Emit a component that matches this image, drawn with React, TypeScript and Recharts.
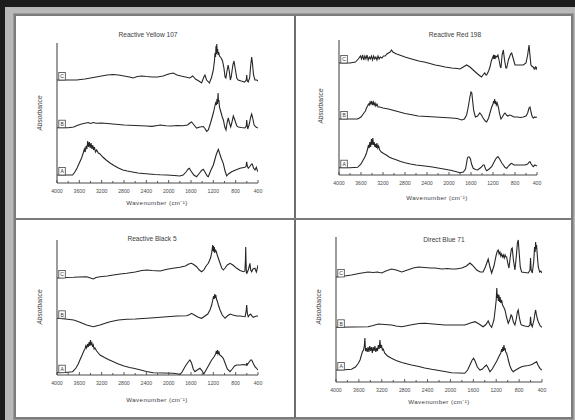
import React from 'react';
import { LineChart, Line, XAxis, YAxis, ReferenceDot } from 'recharts';

type Pt = [number, number];

// ---------- Reactive Yellow 107 ----------
const ry107C: Pt[] = [[4000,1.03],[3850,1.03],[3650,1.03],[3500,1.04],[3400,1.05],[3300,1.06],[3200,1.07],[3100,1.08],[3000,1.085],[2900,1.08],[2800,1.07],[2700,1.06],[2640,1.05],[2560,1.065],[2480,1.07],[2400,1.065],[2300,1.06],[2200,1.06],[2100,1.07],[2000,1.09],[1920,1.10],[1850,1.08],[1780,1.07],[1700,1.06],[1620,1.05],[1570,1.07],[1520,1.04],[1460,1.02],[1410,1.00],[1370,1.06],[1350,1.08],[1320,1.03],[1270,1.00],[1230,1.06],[1200,1.13],[1180,1.22],[1170,1.30],[1160,1.26],[1152,1.37],[1145,1.29],[1138,1.39],[1130,1.30],[1122,1.34],[1115,1.28],[1105,1.31],[1090,1.27],[1060,1.25],[1035,1.22],[1010,1.15],[990,1.06],[975,1.05],[955,1.12],[935,1.18],[915,1.12],[895,1.03],[880,1.06],[850,1.18],[830,1.22],[810,1.15],[780,1.05],[755,1.03],[700,1.02],[640,1.01],[610,1.03],[602,1.08],[592,1.02],[575,1.01],[550,1.05],[530,1.18],[513,1.26],[500,1.20],[480,1.08],[455,1.03],[420,1.03],[400,1.02]];
const ry107B: Pt[] = [[4000,0.553],[3800,0.553],[3700,0.56],[3640,0.575],[3560,0.59],[3480,0.60],[3440,0.605],[3400,0.595],[3350,0.605],[3300,0.598],[3200,0.60],[3100,0.595],[3000,0.59],[2900,0.585],[2800,0.58],[2700,0.578],[2600,0.575],[2500,0.572],[2400,0.57],[2300,0.566],[2200,0.575],[2150,0.58],[2050,0.572],[1950,0.57],[1850,0.575],[1750,0.572],[1660,0.58],[1620,0.60],[1590,0.61],[1560,0.59],[1500,0.55],[1440,0.56],[1380,0.565],[1350,0.545],[1320,0.515],[1290,0.53],[1250,0.60],[1220,0.66],[1200,0.70],[1180,0.75],[1160,0.80],[1145,0.78],[1135,0.84],[1125,0.79],[1115,0.90],[1108,0.81],[1100,0.83],[1090,0.76],[1070,0.72],[1040,0.66],[1020,0.63],[995,0.56],[973,0.53],[955,0.60],[932,0.65],[910,0.60],[889,0.56],[870,0.60],[842,0.67],[815,0.63],[780,0.57],[753,0.56],[700,0.555],[633,0.55],[610,0.57],[602,0.63],[592,0.57],[584,0.54],[560,0.58],[530,0.66],[513,0.69],[495,0.65],[470,0.58],[437,0.56],[400,0.55]];
const ry107A: Pt[] = [[4000,0.08],[3850,0.08],[3720,0.08],[3680,0.11],[3640,0.15],[3600,0.20],[3560,0.25],[3530,0.30],[3510,0.34],[3495,0.31],[3480,0.37],[3465,0.34],[3450,0.42],[3435,0.36],[3420,0.41],[3405,0.35],[3390,0.40],[3375,0.34],[3360,0.38],[3345,0.33],[3330,0.36],[3310,0.31],[3290,0.33],[3260,0.30],[3230,0.29],[3180,0.26],[3120,0.23],[3050,0.20],[2980,0.175],[2900,0.15],[2820,0.13],[2740,0.12],[2650,0.11],[2550,0.10],[2460,0.095],[2350,0.09],[2250,0.085],[2150,0.082],[2035,0.08],[1900,0.075],[1800,0.07],[1740,0.08],[1690,0.11],[1650,0.14],[1630,0.147],[1600,0.12],[1550,0.08],[1500,0.063],[1460,0.09],[1410,0.125],[1380,0.137],[1350,0.11],[1310,0.07],[1290,0.063],[1250,0.12],[1200,0.18],[1170,0.24],[1150,0.28],[1130,0.31],[1110,0.337],[1090,0.30],[1060,0.25],[1022,0.197],[990,0.12],[961,0.07],[930,0.09],[871,0.113],[800,0.13],[722,0.147],[633,0.157],[612,0.17],[602,0.213],[592,0.17],[574,0.147],[540,0.17],[515,0.19],[502,0.19],[480,0.15],[454,0.13],[430,0.157],[415,0.13],[400,0.113]];

// ---------- Reactive Red 198 ----------
const rr198C: Pt[] = [[4000,1.12],[3800,1.12],[3700,1.13],[3650,1.16],[3610,1.19],[3590,1.16],[3570,1.20],[3550,1.15],[3530,1.19],[3510,1.16],[3490,1.20],[3470,1.15],[3450,1.18],[3430,1.16],[3410,1.19],[3390,1.15],[3370,1.19],[3350,1.16],[3330,1.18],[3310,1.15],[3290,1.19],[3270,1.16],[3250,1.18],[3220,1.17],[3190,1.19],[3160,1.19],[3130,1.21],[3100,1.22],[3070,1.23],[3045,1.25],[3020,1.23],[2990,1.22],[2950,1.21],[2900,1.20],[2800,1.18],[2680,1.16],[2550,1.14],[2450,1.13],[2380,1.12],[2250,1.10],[2150,1.09],[2070,1.08],[1950,1.07],[1850,1.065],[1800,1.06],[1740,1.08],[1680,1.10],[1620,1.08],[1560,1.05],[1480,1.01],[1410,0.98],[1370,1.01],[1350,1.02],[1330,1.00],[1315,1.00],[1280,1.04],[1255,1.08],[1230,1.14],[1210,1.17],[1195,1.19],[1185,1.16],[1175,1.20],[1165,1.16],[1150,1.19],[1130,1.18],[1110,1.20],[1090,1.15],[1070,1.09],[1055,1.07],[1035,1.20],[1012,1.25],[990,1.15],[965,1.07],[951,1.07],[920,1.15],[880,1.21],[860,1.22],[830,1.16],[800,1.10],[720,1.10],[650,1.10],[600,1.12],[570,1.20],[545,1.30],[525,1.18],[510,1.10],[497,1.09],[470,1.08],[450,1.06],[430,1.08],[415,1.06],[400,1.08]];
const rr198B: Pt[] = [[4000,0.56],[3800,0.56],[3660,0.56],[3600,0.58],[3560,0.61],[3520,0.64],[3500,0.67],[3480,0.69],[3465,0.71],[3450,0.70],[3435,0.73],[3420,0.71],[3405,0.74],[3390,0.70],[3375,0.73],[3360,0.70],[3345,0.72],[3330,0.69],[3310,0.71],[3290,0.68],[3260,0.68],[3200,0.67],[3100,0.66],[3000,0.645],[2900,0.63],[2800,0.615],[2700,0.605],[2560,0.59],[2400,0.585],[2250,0.58],[2100,0.575],[1950,0.57],[1850,0.565],[1770,0.55],[1720,0.56],[1680,0.60],[1650,0.68],[1620,0.78],[1600,0.83],[1585,0.82],[1570,0.74],[1550,0.64],[1520,0.58],[1480,0.59],[1440,0.62],[1410,0.60],[1380,0.57],[1340,0.54],[1315,0.53],[1280,0.57],[1250,0.63],[1224,0.68],[1200,0.71],[1190,0.74],[1180,0.72],[1170,0.76],[1160,0.71],[1150,0.74],[1140,0.70],[1125,0.72],[1103,0.68],[1080,0.61],[1055,0.56],[1030,0.58],[1000,0.61],[982,0.62],[955,0.60],[930,0.59],[900,0.60],[870,0.595],[820,0.58],[760,0.58],[700,0.575],[650,0.58],[600,0.59],[570,0.62],[545,0.67],[527,0.68],[505,0.62],[485,0.58],[467,0.57],[440,0.58],[420,0.575],[400,0.58]];
const rr198A: Pt[] = [[4000,0.073],[3800,0.073],[3660,0.077],[3600,0.11],[3560,0.15],[3530,0.18],[3500,0.22],[3480,0.26],[3465,0.30],[3450,0.27],[3440,0.33],[3425,0.28],[3410,0.36],[3398,0.30],[3385,0.37],[3372,0.30],[3360,0.33],[3348,0.28],[3335,0.31],[3320,0.27],[3310,0.32],[3295,0.27],[3280,0.29],[3260,0.25],[3230,0.23],[3190,0.215],[3140,0.20],[3090,0.18],[3040,0.167],[2950,0.15],[2880,0.135],[2800,0.123],[2700,0.11],[2600,0.10],[2440,0.09],[2300,0.08],[2200,0.07],[2070,0.057],[1950,0.045],[1850,0.03],[1800,0.023],[1740,0.03],[1700,0.06],[1680,0.12],[1665,0.17],[1650,0.18],[1630,0.18],[1610,0.16],[1590,0.11],[1560,0.067],[1520,0.055],[1480,0.05],[1420,0.075],[1380,0.10],[1360,0.10],[1335,0.06],[1315,0.043],[1270,0.06],[1224,0.083],[1180,0.13],[1140,0.17],[1110,0.185],[1080,0.16],[1040,0.12],[1012,0.10],[980,0.075],[951,0.067],[920,0.09],[880,0.11],[860,0.117],[820,0.10],[780,0.10],[740,0.10],[680,0.10],[618,0.10],[570,0.11],[540,0.13],[527,0.133],[505,0.11],[480,0.09],[467,0.083],[440,0.10],[420,0.095],[400,0.09]];

// ---------- Reactive Black 5 ----------
const rb5C: Pt[] = [[4000,0.97],[3850,0.975],[3700,0.977],[3600,0.98],[3470,0.983],[3400,0.97],[3350,0.96],[3300,0.975],[3230,0.983],[3100,0.99],[2990,1.00],[2870,1.01],[2750,1.017],[2600,1.03],[2480,1.045],[2390,1.05],[2300,1.045],[2150,1.04],[2050,1.055],[1950,1.065],[1800,1.077],[1700,1.09],[1640,1.11],[1590,1.117],[1540,1.10],[1500,1.083],[1450,1.05],[1410,1.033],[1370,1.05],[1330,1.09],[1290,1.117],[1250,1.17],[1230,1.22],[1220,1.26],[1212,1.30],[1205,1.24],[1198,1.29],[1190,1.23],[1182,1.28],[1175,1.22],[1165,1.25],[1150,1.24],[1130,1.20],[1100,1.15],[1080,1.117],[1050,1.07],[1022,1.05],[990,1.07],[950,1.10],[900,1.117],[850,1.10],[780,1.067],[720,1.045],[660,1.033],[635,1.04],[625,1.15],[620,1.28],[615,1.15],[608,1.02],[600,1.017],[575,1.05],[560,1.08],[545,1.117],[530,1.05],[513,1.033],[490,1.06],[455,1.067],[430,1.03],[415,1.06],[400,1.10]];
const rb5B: Pt[] = [[4000,0.567],[3850,0.56],[3700,0.55],[3600,0.53],[3470,0.50],[3400,0.49],[3350,0.483],[3300,0.49],[3230,0.50],[3150,0.515],[3050,0.533],[2900,0.55],[2750,0.557],[2600,0.56],[2390,0.567],[2200,0.575],[2035,0.583],[1850,0.59],[1680,0.593],[1620,0.605],[1590,0.617],[1540,0.60],[1480,0.58],[1410,0.567],[1350,0.59],[1300,0.61],[1260,0.65],[1230,0.70],[1210,0.75],[1195,0.79],[1185,0.76],[1175,0.81],[1165,0.77],[1155,0.80],[1145,0.76],[1130,0.74],[1110,0.70],[1080,0.65],[1040,0.60],[990,0.567],[950,0.59],[900,0.61],[850,0.60],[780,0.59],[720,0.59],[660,0.585],[630,0.583],[612,0.64],[602,0.70],[592,0.62],[575,0.583],[550,0.60],[530,0.61],[510,0.59],[485,0.577],[450,0.585],[420,0.59],[400,0.59]];
const rb5A: Pt[] = [[4000,0.023],[3850,0.025],[3720,0.033],[3660,0.07],[3620,0.11],[3590,0.15],[3550,0.20],[3520,0.24],[3500,0.26],[3485,0.29],[3470,0.27],[3455,0.31],[3440,0.28],[3425,0.33],[3412,0.29],[3400,0.35],[3388,0.30],[3375,0.32],[3362,0.28],[3350,0.30],[3335,0.26],[3320,0.27],[3290,0.24],[3260,0.22],[3230,0.20],[3150,0.175],[3080,0.155],[2990,0.133],[2900,0.11],[2800,0.09],[2700,0.075],[2630,0.067],[2500,0.05],[2400,0.035],[2275,0.023],[2100,0.02],[1920,0.017],[1850,0.012],[1800,0.004],[1760,0.03],[1700,0.09],[1650,0.13],[1620,0.15],[1590,0.12],[1560,0.06],[1530,0.033],[1490,0.05],[1440,0.067],[1400,0.04],[1370,0.01],[1330,0.05],[1280,0.10],[1230,0.15],[1190,0.18],[1160,0.21],[1145,0.24],[1135,0.21],[1125,0.25],[1115,0.21],[1100,0.23],[1085,0.20],[1060,0.19],[1022,0.167],[990,0.12],[950,0.06],[902,0.033],[860,0.06],[820,0.09],[782,0.10],[720,0.10],[660,0.105],[610,0.10],[602,0.12],[595,0.10],[560,0.13],[530,0.15],[513,0.15],[480,0.11],[454,0.083],[430,0.07],[400,0.05]];

// ---------- Direct Blue 71 ----------
const db71C: Pt[] = [[4000,1.05],[3850,1.06],[3730,1.07],[3600,1.085],[3440,1.10],[3350,1.095],[3280,1.10],[3200,1.09],[3130,1.11],[3030,1.13],[2950,1.12],[2850,1.10],[2750,1.12],[2650,1.14],[2560,1.15],[2450,1.145],[2350,1.14],[2270,1.14],[2150,1.13],[2050,1.135],[1980,1.13],[1900,1.13],[1800,1.14],[1720,1.16],[1660,1.19],[1620,1.17],[1540,1.12],[1480,1.10],[1430,1.10],[1390,1.15],[1340,1.23],[1310,1.15],[1280,1.09],[1240,1.16],[1200,1.27],[1180,1.31],[1165,1.32],[1150,1.28],[1135,1.30],[1120,1.26],[1107,1.28],[1090,1.25],[1075,1.27],[1060,1.24],[1045,1.27],[1030,1.25],[1018,1.25],[995,1.18],[977,1.14],[955,1.25],[935,1.33],[920,1.34],[900,1.22],[873,1.12],[850,1.25],[830,1.39],[815,1.42],[800,1.30],[780,1.15],[756,1.10],[700,1.095],[640,1.09],[610,1.12],[600,1.24],[590,1.12],[570,1.09],[545,1.20],[530,1.35],[520,1.30],[511,1.40],[503,1.33],[495,1.37],[480,1.25],[465,1.15],[440,1.10],[420,1.11],[400,1.09]];
const db71B: Pt[] = [[4000,0.547],[3700,0.55],[3440,0.553],[3350,0.565],[3260,0.58],[3150,0.575],[3030,0.57],[2950,0.56],[2850,0.553],[2700,0.57],[2550,0.585],[2445,0.587],[2300,0.58],[2200,0.575],[2100,0.57],[1900,0.57],[1750,0.57],[1650,0.59],[1570,0.603],[1500,0.58],[1430,0.553],[1380,0.575],[1340,0.61],[1310,0.57],[1280,0.547],[1240,0.62],[1215,0.74],[1200,0.82],[1190,0.94],[1182,0.84],[1172,0.88],[1162,0.81],[1152,0.87],[1142,0.80],[1132,0.85],[1120,0.79],[1105,0.82],[1090,0.77],[1070,0.75],[1047,0.72],[1020,0.65],[990,0.587],[965,0.62],[940,0.67],[925,0.66],[900,0.60],[873,0.57],[850,0.63],[830,0.70],[815,0.72],[795,0.64],[770,0.58],[756,0.57],[700,0.56],[640,0.553],[610,0.57],[600,0.653],[590,0.58],[570,0.553],[540,0.62],[520,0.70],[511,0.72],[500,0.68],[480,0.63],[465,0.603],[430,0.56],[400,0.547]];
const db71A: Pt[] = [[4000,0.12],[3850,0.123],[3730,0.127],[3660,0.15],[3610,0.187],[3580,0.22],[3560,0.26],[3540,0.30],[3520,0.32],[3505,0.36],[3495,0.44],[3485,0.31],[3470,0.34],[3455,0.30],[3440,0.35],[3425,0.30],[3410,0.36],[3395,0.31],[3380,0.35],[3365,0.29],[3350,0.35],[3335,0.31],[3320,0.36],[3305,0.30],[3290,0.34],[3275,0.31],[3260,0.37],[3245,0.33],[3232,0.42],[3220,0.34],[3205,0.37],[3190,0.32],[3175,0.33],[3150,0.29],[3100,0.26],[3030,0.237],[2950,0.215],[2850,0.195],[2750,0.18],[2680,0.17],[2550,0.155],[2450,0.14],[2330,0.127],[2200,0.115],[2100,0.105],[1980,0.093],[1850,0.09],[1750,0.087],[1700,0.12],[1660,0.17],[1620,0.22],[1595,0.237],[1570,0.21],[1530,0.15],[1484,0.12],[1440,0.13],[1400,0.155],[1370,0.17],[1340,0.14],[1310,0.103],[1270,0.13],[1230,0.17],[1190,0.21],[1165,0.24],[1140,0.27],[1120,0.29],[1105,0.33],[1095,0.30],[1085,0.35],[1075,0.31],[1065,0.37],[1055,0.32],[1045,0.34],[1035,0.30],[1020,0.29],[1000,0.25],[989,0.22],[960,0.16],[930,0.12],[902,0.103],[860,0.12],[800,0.14],[756,0.153],[700,0.16],[640,0.165],[600,0.17],[560,0.18],[520,0.195],[494,0.203],[470,0.17],[436,0.137],[415,0.125],[400,0.12]];

const titles = ['Reactive Yellow 107', 'Reactive Red 198', 'Reactive Black 5', 'Direct Blue 71'];
const seriesLetters = ['A', 'B', 'C'];
const xTicks = [4000, 3800, 3600, 3400, 3200, 3000, 2800, 2600, 2400, 2200, 2000, 1800, 1600, 1400, 1200, 1000, 800, 600, 400];
const xLabel = 'Wavenumber (cm\u207B\u00B9)';
const yLabel = 'Absorbance';

const FONT = '"Liberation Sans", Arial, sans-serif';
const AX = '#4a4a4a';

const toRows = (pts: Pt[]) => pts.map(([wn, a]) => ({ wn, a }));

const Tick = (props: any) => {
  const { x, y, payload } = props;
  const v = payload.value as number;
  const major = v % 400 === 0;
  return (
    <g>
      <line x1={x} x2={x} y1={y} y2={y - (major ? 3 : 2)} stroke={AX} strokeWidth={0.9} />
      {major && (
        <text x={x} y={y + 8} textAnchor="middle" dominantBaseline="central" fontSize={5.2} fill="#4a4a4a" fontFamily={FONT}>
          {v}
        </text>
      )}
    </g>
  );
};

const makeBox = (letter: string) => (props: any) => {
  const { cx, cy } = props;
  return (
    <g>
      <rect x={cx + 1.8} y={cy - 7.5} width={6.5} height={7.5} fill="#fff" stroke="#444" strokeWidth={0.8} />
      <text x={cx + 5.05} y={cy - 3.6} textAnchor="middle" dominantBaseline="central" fontSize={5} fill="#333" fontFamily={FONT}>
        {letter}
      </text>
    </g>
  );
};

type PanelProps = {
  left: number; top: number; width: number; height: number;
  margin: { top: number; right: number; bottom: number; left: number };
  yMax: number;
  series: Pt[][];
};

const Panel = ({ left, top, width, height, margin, yMax, series }: PanelProps) => (
  <div style={{ position: 'absolute', left, top, width, height }}>
    <LineChart width={width} height={height} margin={margin}>
      <XAxis
        type="number"
        dataKey="wn"
        domain={[400, 4000]}
        reversed
        allowDataOverflow
        ticks={xTicks}
        interval={0}
        tick={(p: any) => <Tick {...p} />}
        tickLine={false}
        tickSize={0}
        tickMargin={0}
        height={10}
        axisLine={{ stroke: AX, strokeWidth: 1.1 }}
      />
      <YAxis
        type="number"
        domain={[0, yMax]}
        allowDataOverflow
        tick={false}
        tickLine={false}
        width={10}
        axisLine={{ stroke: AX, strokeWidth: 1.1 }}
      />
      {series.map((s, i) => (
        <Line
          key={i}
          data={toRows(s)}
          dataKey="a"
          type="linear"
          dot={false}
          stroke="#262626"
          strokeWidth={1.1}
          isAnimationActive={false}
        />
      ))}
      {series.map((s, i) => (
        <ReferenceDot key={'b' + i} x={s[0][0]} y={s[0][1]} r={0} ifOverflow="visible" shape={makeBox(seriesLetters[i])} />
      ))}
    </LineChart>
  </div>
);

const textSpecs = [
  { t: [148, 34], x: [157, 202], y: [39, 113] },
  { t: [455, 34], x: [437, 197], y: [320, 106] },
  { t: [152, 238], x: [157, 399], y: [39, 307] },
  { t: [444, 239], x: [439, 401], y: [318, 307] },
];

export default function App() {
  return (
    <div style={{ position: 'absolute', left: 0, top: 0, width: 575, height: 420, background: '#1c1c1c', overflow: 'hidden' }}>
      <div style={{ position: 'absolute', left: 5, top: 7, width: 570, height: 413, background: '#b9b9b9' }} />
      <div style={{ position: 'absolute', left: 13, top: 13, width: 561, height: 407, background: '#9a9a9a' }} />
      <div style={{ position: 'absolute', left: 14, top: 14, width: 555, height: 401, background: '#fff', border: '2px solid #7c7c7c' }} />
      <div style={{ position: 'absolute', left: 294, top: 16, width: 2, height: 402, background: '#6e6e6e' }} />
      <div style={{ position: 'absolute', left: 16, top: 218, width: 556, height: 2, background: '#7a7a7a' }} />

      <Panel left={16} top={16} width={279} height={203} margin={{ top: 27, right: 37, bottom: 26, left: 31 }} yMax={1.4} series={[ry107A, ry107B, ry107C]} />
      <Panel left={296} top={16} width={276} height={203} margin={{ top: 24, right: 35, bottom: 34, left: 33 }} yMax={1.35} series={[rr198A, rr198B, rr198C]} />
      <Panel left={16} top={220} width={279} height={198} margin={{ top: 20, right: 37, bottom: 33, left: 31 }} yMax={1.35} series={[rb5A, rb5B, rb5C]} />
      <Panel left={296} top={220} width={276} height={198} margin={{ top: 17, right: 30, bottom: 26, left: 30 }} yMax={1.45} series={[db71A, db71B, db71C]} />

      <svg width={575} height={420} style={{ position: 'absolute', left: 0, top: 0, pointerEvents: 'none' }}>
        {textSpecs.map((s, i) => (
          <g key={i} fontFamily={FONT} fill="#3c3c3c">
            <text x={s.t[0]} y={s.t[1]} textAnchor="middle" dominantBaseline="central" fontSize={6.6}>{titles[i]}</text>
            <text x={s.x[0]} y={s.x[1]} textAnchor="middle" dominantBaseline="central" fontSize={6.2} letterSpacing={0.4}>{xLabel}</text>
            <text x={s.y[0]} y={s.y[1]} textAnchor="middle" dominantBaseline="central" fontSize={6.6} fontStyle="italic" transform={`rotate(-90 ${s.y[0]} ${s.y[1]})`}>{yLabel}</text>
          </g>
        ))}
      </svg>
    </div>
  );
}
